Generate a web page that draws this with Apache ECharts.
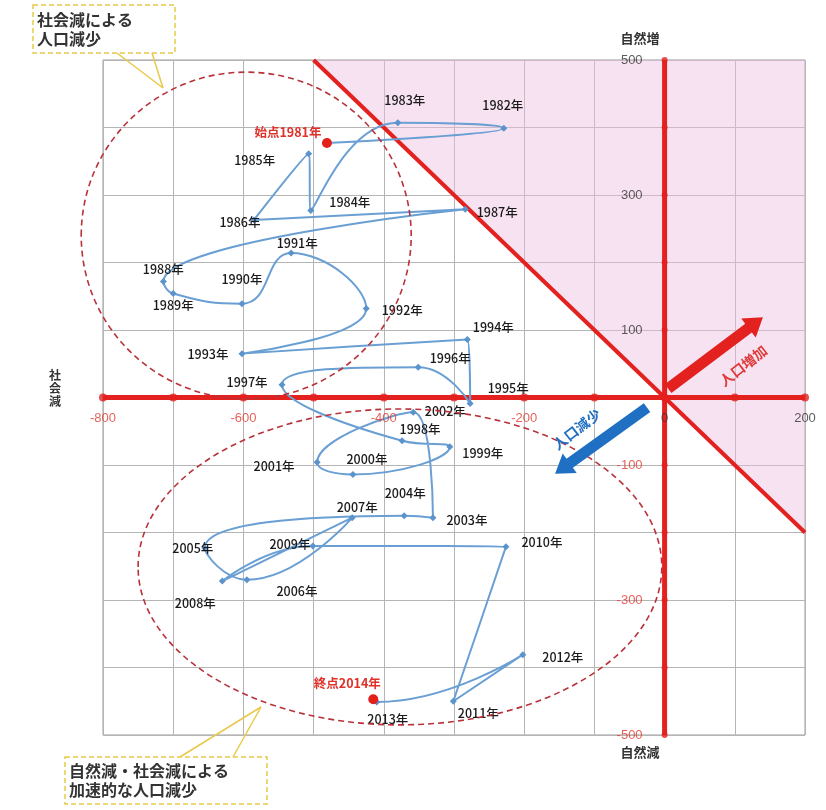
<!DOCTYPE html>
<html><head><meta charset="utf-8">
<script src="https://cdn.jsdelivr.net/npm/echarts@6/dist/echarts.min.js"></script>
<style>html,body{margin:0;padding:0;background:#fff}#c{width:826px;height:810px}</style>
</head><body><div id="c"></div>
<script>
const years = [1981,1982,1983,1984,1985,1986,1987,1988,1989,1990,1991,1992,1993,1994,1995,1996,1997,1998,1999,2000,2001,2002,2003,2004,2005,2006,2007,2008,2009,2010,2011,2012,2013,2014];
const socialChange = [-481,-229,-380,-504,-507,-585,-284,-714,-700,-602,-532,-425,-602,-281,-277,-351,-545,-374,-306,-444,-495,-358,-330,-371,-655,-595,-445,-630,-501,-226,-301,-202,-410,-415];
const naturalChange = [377,399,407,277,361,263,279,172,154,139,214,132,65,86,-9,45,19,-64,-73,-114,-96,-22,-178,-175,-223,-270,-178,-272,-220,-221,-450,-381,-451,-447];
const labelOffsets = [[-39,-11],[-1,-23],[7,-23],[39,-8],[-54,6],[-14,2],[32,3],[0,-12],[0,12],[0,-24],[6,-10],[36,2],[-34,1],[26,-12],[38,-15],[32,-9],[-35,-2],[18,-11],[33,6],[14,-15],[-43,4],[32,-1],[34,3],[1,-22],[-12,0],[50,11],[5,-10],[-27,22],[-23,-2],[36,-4],[25,12],[40,3],[11,17],[-26,-16]];
const xTicks = [-800,-700,-600,-500,-400,-300,-200,-100,0,100,200];
const yTicks = [-500,-400,-300,-200,-100,100,200,300,400,500];
const xTickLabels = [-800,-600,-400,-200,0,200];
const yTickLabels = [500,300,100,-100,-300,-500];
const pinkRegion = [[-500,500],[200,500],[200,-200]];
const diagLine = [[-500,500],[200,-200]];
const upEllipse = {cx:-596, cy:240, rx:235, ry:242};
const lowEllipse = {cx:-377, cy:-251, rx:373, ry:234};
const incArrow = [[5,13],[140,119]];
const decArrow = [[-25,-15],[-156,-113]];
const incLabelPos = [112,47];
const decLabelPos = [-125,-47];

const RED = '#e3211f', BLUE_LINE = '#6a9fd3', FONT = '"Noto Sans CJK JP", "Liberation Sans", sans-serif';
const NUMFONT = '"Liberation Sans", sans-serif';
const chart = echarts.init(document.getElementById('c'));

const mainData = years.map((y,i)=>{
  const isEnd = (i===0 || i===years.length-1);
  const item = {
    value:[socialChange[i], naturalChange[i]],
    label:{show:true, position:'inside',
      formatter: i===0 ? '始点'+y+'年' : (i===years.length-1 ? '終点'+y+'年' : y+'年'),
      color: isEnd ? '#e0302a' : '#1a1a1a', fontSize:12.5, fontWeight: isEnd ? 'bold':500, fontFamily:FONT}
  };
  if (isEnd) { item.symbol='circle'; item.symbolSize=10; item.itemStyle={color:'#e3201c'}; }
  return item;
});

const numColor = v => (v<0 ? '#e03a30' : '#333');

chart.setOption({
  animation:false,
  grid:{left:103,right:21,top:60,bottom:75,show:true,borderColor:'#9a9a9a',borderWidth:1},
  xAxis:{type:'value',min:-800,max:200,interval:100,
    axisLine:{show:false}, axisTick:{show:false}, axisLabel:{show:false},
    splitLine:{lineStyle:{color:'#b5b5b5',width:1}}},
  yAxis:{type:'value',min:-500,max:500,interval:100,
    axisLine:{show:false}, axisTick:{show:false}, axisLabel:{show:false},
    splitLine:{lineStyle:{color:'#b5b5b5',width:1}}},
  series:[
    {type:'custom', z:0, silent:true, data:[0],
      renderItem:(params,api)=>({type:'polygon',shape:{points:pinkRegion.map(p=>api.coord(p))},style:{fill:'rgba(238,190,225,0.45)'}})},
    {type:'line', data:[[-800,0],[200,0]], symbol:'none', z:2, lineStyle:{color:RED,width:5}, silent:true},
    {type:'line', data:[[0,-500],[0,500]], symbol:'none', z:2, lineStyle:{color:RED,width:5}, silent:true},
    {type:'line', data:diagLine, symbol:'none', z:3, lineStyle:{color:RED,width:4}, silent:true},
    {type:'scatter', data:xTicks.map(x=>[x,0]), symbol:'circle', symbolSize:8, itemStyle:{color:RED}, z:3, silent:true},
    {type:'scatter', data:yTicks.map(y=>[0,y]), symbol:'circle', symbolSize:6, itemStyle:{color:RED}, z:3, silent:true},
    {type:'scatter', data:xTickLabels.map(x=>({value:[x,0],label:{color:numColor(x)}})), symbolSize:0, z:6, silent:true,
      label:{show:true, position:'bottom', distance:14, fontSize:13, fontFamily:NUMFONT,
        formatter:p=>String(p.value[0])},
      labelLayout:{hideOverlap:false}},
    {type:'scatter', data:yTickLabels.map(y=>({value:[0,y],label:{color:numColor(y)}})), symbolSize:0, z:6, silent:true,
      label:{show:true, position:'left', distance:22, fontSize:13, fontFamily:NUMFONT,
        formatter:p=>String(p.value[1])},
      labelLayout:{hideOverlap:false}},
    {type:'line', data:mainData, smooth:0.5, z:5, symbol:'diamond', symbolSize:7, showSymbol:true,
      lineStyle:{color:BLUE_LINE,width:2}, itemStyle:{color:'#5b93cc'},
      labelLayout:p=>({dx:labelOffsets[p.dataIndex][0], dy:labelOffsets[p.dataIndex][1], hideOverlap:false})}
  ]
});

function P(pt){return chart.convertToPixel({gridIndex:0}, pt);}
function ell(e){
  const c = P([e.cx,e.cy]); const a = P([e.cx+e.rx,e.cy]); const b = P([e.cx,e.cy+e.ry]);
  return {type:'ellipse', shape:{cx:c[0],cy:c[1],rx:Math.abs(a[0]-c[0]),ry:Math.abs(c[1]-b[1])},
    style:{fill:'none',stroke:'#b8323a',lineWidth:1.6,lineDash:[6,4]}, z:10, silent:true};
}
function arrow(seg,color){
  const s = P(seg[0]), t = P(seg[1]);
  const dx=t[0]-s[0], dy=t[1]-s[1], L=Math.hypot(dx,dy), ux=dx/L, uy=dy/L, nx=-uy, ny=ux;
  const w=5.5, hw=12, hl=18;
  const bx=t[0]-ux*hl, by=t[1]-uy*hl;
  const pts=[[s[0]+nx*w,s[1]+ny*w],[bx+nx*w,by+ny*w],[bx+nx*hw,by+ny*hw],[t[0],t[1]],[bx-nx*hw,by-ny*hw],[bx-nx*w,by-ny*w],[s[0]-nx*w,s[1]-ny*w]];
  return {type:'polygon', shape:{points:pts}, style:{fill:color}, z:12, silent:true};
}
const incL = P(incLabelPos), decL = P(decLabelPos);
const ang = 38*Math.PI/180;
const YEL = '#e8c94a';
chart.setOption({graphic:[
  ell(upEllipse), ell(lowEllipse),
  arrow(incArrow, RED), arrow(decArrow, '#1f6fc2'),
  {type:'text', x:incL[0], y:incL[1], rotation:ang, z:20, style:{text:'人口増加', fill:'#e03a3a', font:'bold 14px '+FONT, textAlign:'center', textVerticalAlign:'middle'}},
  {type:'text', x:decL[0], y:decL[1], rotation:ang, z:20, style:{text:'人口減少', fill:'#1f6fc2', font:'bold 14px '+FONT, textAlign:'center', textVerticalAlign:'middle'}},
  {type:'text', x:640, y:38, z:20, style:{text:'自然増', fill:'#333', font:'bold 13px '+FONT, textAlign:'center', textVerticalAlign:'middle'}},
  {type:'text', x:640, y:752, z:20, style:{text:'自然減', fill:'#333', font:'bold 13px '+FONT, textAlign:'center', textVerticalAlign:'middle'}},
  {type:'text', x:55, y:388, z:20, style:{text:'社\n会\n減', fill:'#333', font:'bold 12px '+FONT, textAlign:'center', textVerticalAlign:'middle', lineHeight:13}},
  {type:'line', shape:{x1:117,y1:53,x2:163,y2:88}, style:{stroke:YEL,lineWidth:1.5}, z:15},
  {type:'line', shape:{x1:152,y1:53,x2:163,y2:88}, style:{stroke:YEL,lineWidth:1.5}, z:15},
  {type:'rect', shape:{x:33,y:5,width:142,height:48}, style:{fill:'#fff',stroke:YEL,lineWidth:1.5,lineDash:[5,3]}, z:16},
  {type:'text', x:37, y:10, z:17, style:{text:'社会減による\n人口減少', fill:'#333', font:'bold 16px '+FONT, lineHeight:19}},
  {type:'line', shape:{x1:180,y1:757,x2:261,y2:707}, style:{stroke:YEL,lineWidth:1.5}, z:15},
  {type:'line', shape:{x1:233,y1:757,x2:261,y2:707}, style:{stroke:YEL,lineWidth:1.5}, z:15},
  {type:'rect', shape:{x:65,y:757,width:202,height:47}, style:{fill:'#fff',stroke:YEL,lineWidth:1.5,lineDash:[5,3]}, z:16},
  {type:'text', x:69, y:761, z:17, style:{text:'自然減・社会減による\n加速的な人口減少', fill:'#333', font:'bold 16px '+FONT, lineHeight:19}}
]});
</script></body></html>
